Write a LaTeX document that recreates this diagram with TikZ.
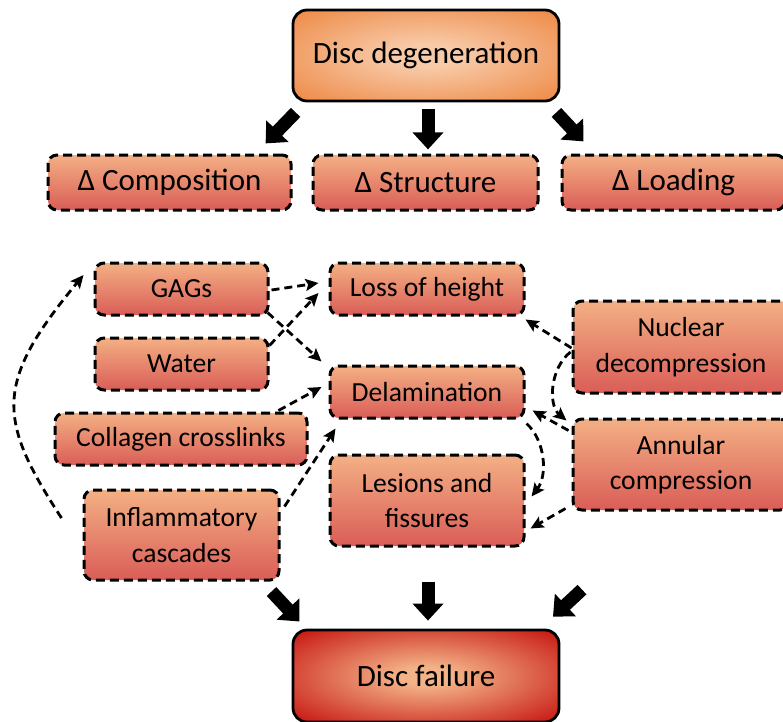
\documentclass[tikz,border=0pt]{standalone}
\usepackage{fontspec}
\setmainfont{Carlito}
\usetikzlibrary{arrows.meta,calc}
\definecolor{boxtop}{HTML}{F3B084}
\definecolor{boxbot}{HTML}{DA5D57}
\definecolor{degin}{HTML}{F8CAA8}
\definecolor{degout}{HTML}{EB7A2E}
\definecolor{failin}{HTML}{F3B287}
\definecolor{failout}{HTML}{C00000}
\pgfdeclareradialshading{degshade}{\pgfpoint{0bp}{0bp}}{color(0bp)=(degin); color(6bp)=(degin); color(42bp)=(degout); color(50bp)=(degout)}
\pgfdeclareradialshading{failshade}{\pgfpoint{0bp}{0bp}}{color(0bp)=(failin); color(5bp)=(failin); color(39bp)=(failout); color(50bp)=(failout)}
\tikzset{
  mainbox/.style={rectangle, rounded corners=14pt, draw=black, line width=2.8pt, inner sep=0pt, align=center, font=\fontsize{31}{34}\selectfont},
  dbox/.style={rectangle, rounded corners=9pt, draw=black, line width=3pt, dash pattern=on 9pt off 5pt, top color=boxtop, bottom color=boxbot, inner sep=0pt, align=center},
  bigtxt/.style={font=\fontsize{31}{34}\selectfont},
  smalltxt/.style={font=\fontsize{27.6}{35.5}\selectfont},
  blk/.style={line width=13pt, -{Triangle[length=17pt,width=30pt]}},
  darr/.style={line width=2.8pt, dash pattern=on 8pt off 5pt, -{Stealth[length=13pt,width=12pt,inset=2.5pt]}}
}
\begin{document}
\begin{tikzpicture}[x=1pt,y=-1pt]
\useasboundingbox (0,0) rectangle (783,721);
\clip (0,0) rectangle (783,721);

% main boxes
\node[mainbox, shading=degshade, minimum width=266pt, minimum height=91pt] (deg) at (426,55.5) {Disc degeneration};
\node[mainbox, shading=failshade, minimum width=266pt, minimum height=92pt] (fail) at (426,676) {Disc failure};

% delta boxes
\node[dbox, bigtxt, minimum width=243pt, minimum height=55pt] (comp) at (169.5,182.5) {Δ Composition};
\node[dbox, bigtxt, minimum width=225pt, minimum height=55pt] (struc) at (425.5,182.5) {Δ Structure};
\node[dbox, bigtxt, minimum width=223pt, minimum height=55pt] (load) at (673.5,182.5) {Δ Loading};

% left column
\node[dbox, smalltxt, minimum width=173pt, minimum height=52pt] (gags) at (181.5,289) {GAGs};
\node[dbox, smalltxt, minimum width=173pt, minimum height=52pt] (water) at (181.5,364) {Water};
\node[dbox, smalltxt, minimum width=252pt, minimum height=52pt] (coll) at (181,439) {Collagen crosslinks};
\node[dbox, smalltxt, minimum width=195pt, minimum height=90pt] (infl) at (181.5,535) {Inflammatory\\cascades};

% middle column
\node[dbox, smalltxt, minimum width=194pt, minimum height=52pt] (loss) at (427,289) {Loss of height};
\node[dbox, smalltxt, minimum width=194pt, minimum height=52pt] (delam) at (427,392) {Delamination};
\node[dbox, smalltxt, minimum width=194pt, minimum height=91pt] (les) at (427,500.5) {Lesions and\\fissures};

% right column
\node[dbox, smalltxt, minimum width=216pt, minimum height=92pt] (nuc) at (681,347) {Nuclear\\decompression};
\node[dbox, smalltxt, minimum width=216pt, minimum height=91pt] (ann) at (681,464.5) {Annular\\compression};

% block arrows top
\draw[blk] ($(deg.south west)+(4,10)$) -- ++(-30,31);
\draw[blk] ($(deg.south)+(2,7)$) -- ++(0,40);
\draw[blk] ($(deg.south east)+(-4,10)$) -- ++(27,29);
% block arrows bottom
\draw[blk] ($(infl.south east)+(-9,10)$) -- ++(28,30);
\draw[blk] ($(fail.north)+(2,-47)$) -- ++(0,39);
\draw[blk] ($(fail.north)+(156,-39)$) -- ++(-29,27);

% dashed connectors
\draw[darr] ($(gags.east)+(2,1)$) -- ($(loss.west)+(-10,-6)$);
\draw[darr] ($(gags.south east)+(-2,-4)$) -- ($(delam.north west)+(-7,-3)$);
\draw[darr] ($(water.north east)+(0,9)$) -- ($(loss.west)+(-10,4)$);
\draw[darr] ($(coll.north east)+(-30,-1)$) -- ($(delam.west)+(-7,-5)$);
\draw[darr] ($(infl.north east)+(4,18)$) -- ($(delam.south west)+(7,9)$);
\draw[darr] ($(infl.west)+(-21,-17)$) .. controls (-3,419) and (-6,383) .. ($(gags.west)+(-10,-14)$);
\draw[darr] ($(nuc.west)+(0,1)$) -- ($(loss.south east)+(0,3)$);
\draw[darr] ($(nuc.west)+(-1,5)$) .. controls (550,368) and (548,405) .. ($(ann.north west)+(-5,3)$);
\draw[darr] ($(ann.north west)+(-3,13)$) -- ($(delam.south east)+(7,-9)$);
\draw[darr] ($(delam.south east)+(1,4)$) .. controls (545,440) and (548,475) .. ($(les.east)+(6,-4)$);
\draw[darr] ($(ann.south west)+(-6,-3)$) -- ($(les.south east)+(5,-19)$);
\end{tikzpicture}
\end{document}
